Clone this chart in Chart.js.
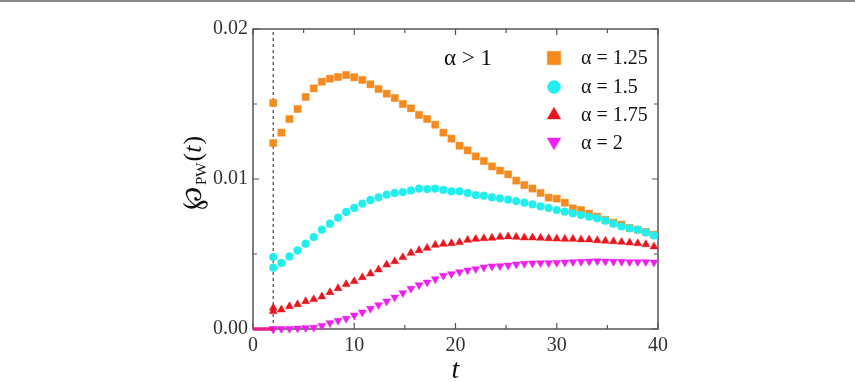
<!DOCTYPE html>
<html><head><meta charset="utf-8">
<script src="https://cdn.jsdelivr.net/npm/chart.js@4/dist/chart.umd.min.js"></script>
<style>html,body{margin:0;padding:0;background:#fff}#wrap{width:855px;height:382px;position:relative}</style>
</head><body><div id="wrap"><canvas id="c" width="855" height="382"></canvas></div>
<script>
// ---- data ----
const tValues = [2, 2, 2.8, 3.6, 4.4, 5.2, 6, 6.8, 7.6, 8.4, 9.2, 10, 10.8, 11.6, 12.4, 13.2, 14, 14.8, 15.6, 16.4, 17.2, 18, 18.8, 19.6, 20.4, 21.2, 22, 22.8, 23.6, 24.4, 25.2, 26, 26.8, 27.6, 28.4, 29.2, 30, 30.8, 31.6, 32.4, 33.2, 34, 34.8, 35.6, 36.4, 37.2, 38, 38.8, 39.6];
const alpha125 = [0.01507, 0.0124, 0.01309, 0.0140, 0.01467, 0.01547, 0.01604, 0.01649, 0.01669, 0.0168, 0.01693, 0.01678, 0.0166, 0.01631, 0.016, 0.01569, 0.0154, 0.015, 0.01471, 0.01427, 0.0140, 0.01362, 0.01309, 0.01269, 0.01222, 0.01191, 0.01151, 0.0112, 0.01084, 0.01056, 0.01031, 0.00989, 0.0096, 0.00936, 0.00907, 0.00876, 0.00869, 0.00842, 0.00804, 0.00793, 0.00769, 0.00749, 0.00727, 0.00709, 0.00696, 0.00673, 0.00662, 0.00647, 0.00629];
const alpha15 = [0.0048, 0.00409, 0.0044, 0.00484, 0.00524, 0.00569, 0.00613, 0.00662, 0.00702, 0.00742, 0.0078, 0.00807, 0.00836, 0.0086, 0.00878, 0.00896, 0.00907, 0.00913, 0.00924, 0.00936, 0.00933, 0.00936, 0.00927, 0.00918, 0.00918, 0.00907, 0.00893, 0.00889, 0.00878, 0.00871, 0.00862, 0.00853, 0.00842, 0.00831, 0.00818, 0.00807, 0.00793, 0.00782, 0.00771, 0.0076, 0.00749, 0.00738, 0.00722, 0.00702, 0.00684, 0.00671, 0.00662, 0.00644, 0.00624];
const alpha175 = [0.0014, 0.00118, 0.00129, 0.00151, 0.00164, 0.00184, 0.00198, 0.00216, 0.00244, 0.00271, 0.00298, 0.00318, 0.00344, 0.00369, 0.00396, 0.00429, 0.00451, 0.00478, 0.00507, 0.00524, 0.0054, 0.0056, 0.00567, 0.00571, 0.00578, 0.00593, 0.006, 0.00604, 0.00607, 0.00613, 0.00616, 0.00613, 0.00609, 0.00609, 0.00607, 0.00604, 0.00602, 0.006, 0.006, 0.00596, 0.00596, 0.00591, 0.00587, 0.00584, 0.0058, 0.00576, 0.00571, 0.00564, 0.00549];
const alpha2 = [0, 0, 0.00001, 0.00002, 0.00004, 0.00007, 0.0001, 0.00022, 0.0004, 0.00056, 0.00069, 0.00091, 0.00111, 0.00136, 0.0016, 0.00184, 0.00211, 0.0024, 0.00269, 0.00293, 0.00311, 0.00333, 0.00356, 0.00367, 0.0038, 0.00391, 0.004, 0.00411, 0.00418, 0.0042, 0.00424, 0.00431, 0.00436, 0.00438, 0.0044, 0.0044, 0.00442, 0.00444, 0.00447, 0.00449, 0.00451, 0.00453, 0.00451, 0.00449, 0.00449, 0.00447, 0.00447, 0.00447, 0.00444];
const tLead = [0, 2];
const yLead = [0, 0];
const tCut = [2, 2];
const yCut = [0, 0.02];
const xTicks = [0, 10, 20, 30, 40];
const xMinor = [5, 15, 25, 35];
const yTicks = [0, 0.01, 0.02];
const yMinor = [0.005, 0.015];
const seriesLabels = ['α = 1.25', 'α = 1.5', 'α = 1.75', 'α = 2'];
const regimeLabel = 'α > 1';

const COLORS = ['#f58a1e', '#22eeee', '#e8161e', '#f01ef0'];
const SERIF = '"Liberation Serif", "Times New Roman", Times, serif';
const pts = (xs, ys) => ys.map((y, i) => ({x: xs[i], y}));

const frame = {
  id: 'frame',
  beforeDatasetsDraw(chart) {
    const {ctx, chartArea: a, scales: {x, y}} = chart;
    ctx.save();
    ctx.strokeStyle = '#555';
    ctx.lineWidth = 1.5;
    ctx.strokeRect(a.left, a.top, a.right - a.left, a.bottom - a.top);
    ctx.lineWidth = 1.2;
    ctx.beginPath();
    const tx = (v, len) => {
      const p = x.getPixelForValue(v);
      ctx.moveTo(p, a.bottom); ctx.lineTo(p, a.bottom - len);
      ctx.moveTo(p, a.top); ctx.lineTo(p, a.top + len);
    };
    const ty = (v, len) => {
      const p = y.getPixelForValue(v);
      ctx.moveTo(a.left, p); ctx.lineTo(a.left + len, p);
      ctx.moveTo(a.right, p); ctx.lineTo(a.right - len, p);
    };
    xTicks.forEach(v => tx(v, 6)); xMinor.forEach(v => tx(v, 4));
    yTicks.forEach(v => ty(v, 6)); yMinor.forEach(v => ty(v, 4));
    ctx.stroke();
    ctx.restore();
  },
  afterDraw(chart) {
    const {ctx} = chart;
    ctx.save();
    ctx.fillStyle = '#8a8a8a';
    ctx.fillRect(0, 0, chart.width, 2);
    // y title
    ctx.translate(201, 210);
    ctx.rotate(-Math.PI / 2);
    ctx.fillStyle = '#111';
    ctx.textBaseline = 'alphabetic';
    ctx.font = '28px ' + SERIF;
    ctx.fillText('℘', 0, 0);
    let w = ctx.measureText('℘').width;
    ctx.font = '15px ' + SERIF;
    ctx.fillText('PW', w + 2, 5);
    w += 2 + ctx.measureText('PW').width + 1;
    ctx.font = '26px ' + SERIF;
    ctx.fillText('(', w, 0); w += ctx.measureText('(').width;
    ctx.font = 'italic 26px ' + SERIF;
    ctx.fillText('t', w, 0); w += ctx.measureText('t').width + 1;
    ctx.font = '26px ' + SERIF;
    ctx.fillText(')', w, 0);
    ctx.restore();

    // legend
    ctx.save();
    const styles = ['rect', 'circle', 'triangle', 'triangle'];
    const rots = [0, 0, 0, 180];
    const radii = [9.5, 6.5, 7.8, 7.8];
    const rowsY = [58, 87, 115, 143];
    const drawPoint = Chart.helpers && Chart.helpers.drawPoint;
    for (let i = 0; i < 4; i++) {
      ctx.fillStyle = COLORS[i];
      ctx.strokeStyle = COLORS[i];
      ctx.lineWidth = 0.5;
      if (drawPoint) {
        drawPoint(ctx, {pointStyle: styles[i], rotation: rots[i], radius: radii[i], borderWidth: 0.5}, 554, rowsY[i] + (i === 3 ? -1 : 0));
      }
      ctx.fillStyle = '#111';
      ctx.font = '20px ' + SERIF;
      ctx.textBaseline = 'middle';
      ctx.fillText(seriesLabels[i], 581, rowsY[i] + 1);
    }
    ctx.font = '23px ' + SERIF;
    ctx.fillText(regimeLabel, 444, 59);
    ctx.restore();
  }
};

const mk = (label, data, color, style, radius, rot, order) => ({
  label, data, showLine: false, pointStyle: style, pointRadius: radius, pointRotation: rot,
  backgroundColor: color, borderColor: color, pointBorderWidth: 0.5, order, clip: false
});

function build() {
  new Chart(document.getElementById('c'), {
    type: 'scatter',
    data: {
      datasets: [
        {label: 'cut', data: pts(tCut, yCut), showLine: true, pointRadius: 0, borderColor: '#555', borderWidth: 1.3, borderDash: [3, 3], order: 6, clip: false},
        mk(seriesLabels[0], pts(tValues, alpha125), COLORS[0], 'rect', 5, 0, 4),
        mk(seriesLabels[1], pts(tValues, alpha15), COLORS[1], 'circle', 3.9, 0, 3),
        mk(seriesLabels[2], pts(tValues, alpha175), COLORS[2], 'triangle', 4.6, 0, 2),
        mk(seriesLabels[3], pts(tValues, alpha2), COLORS[3], 'triangle', 4.6, 180, 1),
        {label: 'lead', data: pts(tLead, yLead), showLine: true, pointRadius: 0, borderColor: '#e81a8c', borderWidth: 3.5, order: 0, clip: false}
      ]
    },
    options: {
      responsive: false,
      animation: false,
      devicePixelRatio: 1,
      layout: {padding: {left: 0, right: 197, top: 29, bottom: 0}},
      plugins: {legend: {display: false}, tooltip: {enabled: false}},
      scales: {
        x: {
          type: 'linear', min: 0, max: 40,
          afterBuildTicks: s => { s.ticks = xTicks.map(v => ({value: v})); },
          afterFit: s => { s.height = 53; },
          grid: {display: false, drawTicks: false}, border: {display: false},
          ticks: {font: {family: SERIF, size: 20}, color: '#333', padding: 5},
          title: {display: true, text: 't', font: {family: SERIF, size: 28, style: 'italic', lineHeight: 0.8}, color: '#111', padding: {top: 0, bottom: 0}}
        },
        y: {
          type: 'linear', min: 0, max: 0.02,
          afterBuildTicks: s => { s.ticks = yTicks.map(v => ({value: v})); },
          afterFit: s => { s.width = 253; },
          grid: {display: false, drawTicks: false}, border: {display: false},
          ticks: {font: {family: SERIF, size: 20}, color: '#333', padding: 5, callback: v => Number(v).toFixed(2)}
        }
      }
    },
    plugins: [frame]
  });
}
Promise.all([
  document.fonts.load('20px "Liberation Serif"'),
  document.fonts.load('italic 20px "Liberation Serif"')
]).catch(() => {}).then(build);
</script>
</body></html>
